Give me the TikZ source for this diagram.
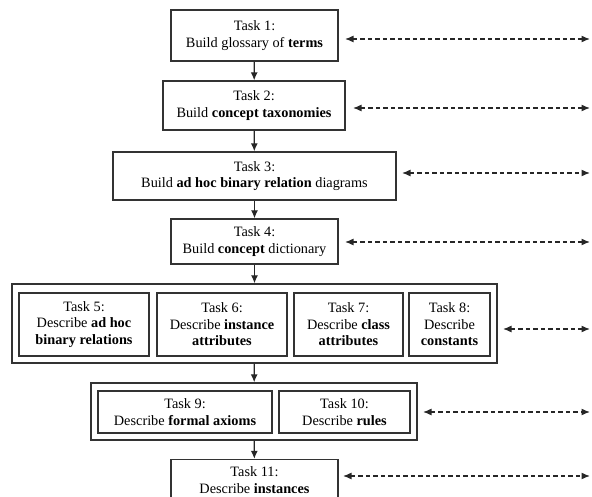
\documentclass[tikz,border=0pt]{standalone}
\usepackage{fontspec}
\setmainfont{Liberation Serif}
\usetikzlibrary{arrows.meta}
\begin{document}
\begin{tikzpicture}[x=1pt,y=-1pt,
  box/.style={draw=black!80,line width=1.3pt,rectangle,align=center,inner sep=0pt,
    font=\fontsize{14.3}{16.5}\selectfont},
  flow/.style={draw=black!85,line width=1.3pt,-{Latex[length=8pt,width=7pt]}},
  link/.style={draw=black!85,line width=1.3pt,dash pattern=on 4.5pt off 3pt,
    {Latex[length=8.5pt,width=7pt]}-{Latex[length=8.5pt,width=7pt]}}]
\useasboundingbox (0,0) rectangle (592,497);
\clip (0,0) rectangle (592,497);
\node[box,minimum width=167pt,minimum height=51pt] (t1) at (254.5,35.5) {Task 1:\\Build glossary of \textbf{terms}};
\node[box,minimum width=182pt,minimum height=49pt] (t2) at (254,105.5) {Task 2:\\Build \textbf{concept taxonomies}};
\node[box,minimum width=283pt,minimum height=48pt] (t3) at (254.5,176) {Task 3:\\Build \textbf{ad hoc binary relation} diagrams};
\node[box,minimum width=167pt,minimum height=45pt] (t4) at (254.5,241.5) {Task 4:\\Build \textbf{concept} dictionary};
\node[box,minimum width=485pt,minimum height=79pt] (g58) at (254.5,323.5) {};
\node[box,minimum width=130pt,minimum height=63pt] (t5) at (84,324.5) {Task 5:\\Describe \textbf{ad hoc}\\\textbf{binary relations}};
\node[box,minimum width=130pt,minimum height=63pt] (t6) at (222,324.5) {Task 6:\\Describe \textbf{instance}\\\textbf{attributes}};
\node[box,minimum width=109pt,minimum height=63pt] (t7) at (348.5,324.5) {Task 7:\\Describe \textbf{class}\\\textbf{attributes}};
\node[box,minimum width=81pt,minimum height=63pt] (t8) at (449.5,324.5) {Task 8:\\Describe\\\textbf{constants}};
\node[box,minimum width=326pt,minimum height=57pt] (g910) at (254,411.5) {};
\node[box,minimum width=174pt,minimum height=42pt] (t9) at (185,412) {Task 9:\\Describe \textbf{formal axioms}};
\node[box,minimum width=131pt,minimum height=42pt] (t10) at (344.5,412) {Task 10:\\Describe \textbf{rules}};
\node[box,minimum width=167pt,minimum height=41pt] (t11) at (254.5,480) {Task 11:\\Describe \textbf{instances}};
\draw[flow] (t1) -- (t2);
\draw[flow] (t2) -- (t3);
\draw[flow] (t3) -- (t4);
\draw[flow] (t4) -- (g58);
\draw[flow] (g58) -- (g910);
\draw[flow] (g910) -- (t11);
\coordinate (l1) at (345,39);   \coordinate (r1) at (590,39);
\coordinate (l2) at (353,108);  \coordinate (r2) at (590,108);
\coordinate (l3) at (402,173);  \coordinate (r3) at (590,173);
\coordinate (l4) at (345,242);  \coordinate (r4) at (590,242);
\coordinate (l5) at (503,329);  \coordinate (r5) at (590,329);
\coordinate (l6) at (423,412);  \coordinate (r6) at (590,412);
\coordinate (l7) at (343,476);  \coordinate (r7) at (590,476);
\foreach \i in {1,...,7} \draw[link] (l\i) -- (r\i);
\end{tikzpicture}
\end{document}
